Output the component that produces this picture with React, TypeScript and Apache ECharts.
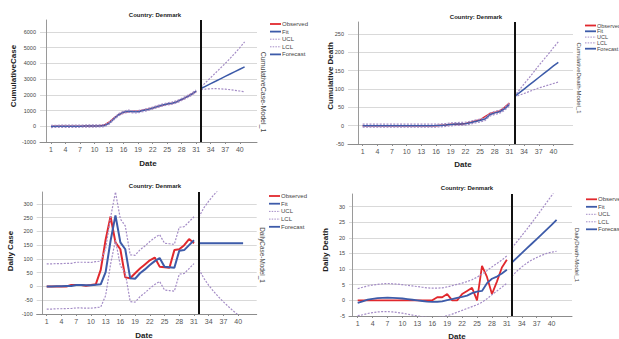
import { useEffect, useRef } from "react";
import * as echarts from "echarts";

// ---- day indices ----
const observedDays = [1, 2, 3, 4, 5, 6, 7, 8, 9, 10, 11, 12, 13, 14, 15, 16, 17, 18, 19, 20, 21, 22, 23, 24, 25, 26, 27, 28, 29, 30, 31];
const forecastDays = [32, 33, 34, 35, 36, 37, 38, 39, 40, 41];
const dayTicks = [1, 4, 7, 10, 13, 16, 19, 22, 25, 28, 31, 34, 37, 40];
const forecastOrigin = 32;

// ---- Cumulative cases ----
const caseCumObserved = [0, 0, 0, 0, 0, 5, 10, 15, 18, 23, 31, 70, 260, 520, 750, 880, 940, 950, 970, 1020, 1090, 1170, 1260, 1340, 1410, 1470, 1570, 1700, 1860, 2040, 2220];
const caseCumFit = [-10, -5, 0, 0, 0, 3, 8, 12, 16, 20, 26, 40, 190, 480, 740, 900, 960, 920, 930, 1000, 1070, 1160, 1260, 1350, 1420, 1470, 1560, 1710, 1860, 2030, 2240];
const caseCumUcl = [60, 65, 70, 70, 70, 73, 78, 82, 86, 90, 96, 110, 260, 550, 810, 970, 1030, 990, 1000, 1070, 1140, 1230, 1330, 1420, 1490, 1540, 1630, 1780, 1930, 2100, 2310];
const caseCumLcl = [-80, -75, -70, -70, -70, -67, -62, -58, -54, -50, -44, -30, 120, 410, 670, 830, 890, 850, 860, 930, 1000, 1090, 1190, 1280, 1350, 1400, 1490, 1640, 1790, 1960, 2170];
const caseCumForecast = [2406, 2560, 2713, 2866, 3020, 3173, 3326, 3479, 3632, 3785];
const caseCumForecastUcl = [2500, 2800, 3100, 3400, 3700, 4000, 4320, 4650, 5000, 5370];
const caseCumForecastLcl = [2330, 2370, 2390, 2395, 2385, 2360, 2330, 2290, 2245, 2190];

// ---- Cumulative deaths ----
const deathCumObserved = [0, 0, 0, 0, 0, 0, 0, 0, 0, 0, 0, 0, 0, 0, 0, 0, 1, 2, 4, 4, 4, 6, 9, 13, 16, 25, 33, 36, 40, 50, 62];
const deathCumFit = [0, 0, 0, 0, 0, 0, 0, 0, 0, 0, 0, 0, 0, 0, 0, 0.2, 0.8, 2, 3.5, 4.5, 4.8, 5.5, 8, 11.5, 14, 18, 30, 35, 38, 46, 58];
const deathCumUcl = [4, 4, 4, 4, 4, 4, 4, 4, 4, 4, 4, 4, 4, 4, 4, 4.2, 4.8, 6, 7.5, 8.5, 8.8, 9.5, 12, 15.5, 18, 22, 34, 39, 42, 50, 62];
const deathCumLcl = [-4, -4, -4, -4, -4, -4, -4, -4, -4, -4, -4, -4, -4, -4, -4, -3.8, -3.2, -2, -0.5, 0.5, 0.8, 1.5, 4, 7.5, 10, 14, 26, 31, 34, 42, 54];
const deathCumForecast = [79, 89.5, 100, 110.5, 121, 131.5, 142, 152.5, 163, 173];
const deathCumForecastUcl = [80, 97, 114, 130, 147, 164, 180, 196, 213, 229];
const deathCumForecastLcl = [78, 83, 88, 93, 98, 103, 107, 111, 115, 119];

// ---- Daily cases ----
const caseDayObserved = [0, 0, 0, 0, 0, 5, 5, 5, 3, 5, 8, 60, 170, 254, 160, 135, 33, 30, 48, 65, 80, 95, 105, 72, 70, 68, 132, 135, 150, 172, 157];
const caseDayFit = [0, 0, 1, 1, 2, 2, 5, 5, 4, 4, 6, 8, 52, 165, 258, 160, 135, 30, 28, 48, 62, 78, 92, 103, 72, 70, 68, 130, 132, 150, 168];
const caseDayUcl = [82, 82, 83, 83, 84, 84, 88, 88, 88, 87, 90, 92, 137, 250, 343, 245, 220, 115, 113, 133, 147, 163, 177, 188, 157, 155, 153, 215, 217, 235, 253];
const caseDayLcl = [-82, -82, -81, -81, -80, -80, -78, -78, -79, -79, -77, -75, -33, 80, 168, 75, 50, -55, -57, -37, -23, -7, 7, 18, -13, -15, -17, 45, 47, 65, 83];
const caseDayForecast = [157, 157, 157, 157, 157, 157, 157, 157, 157, 157];
const caseDayForecastUcl = [252, 285, 310, 332, 352, 370, 387, 403, 418, 432];
const caseDayForecastLcl = [62, 30, 4, -18, -38, -56, -73, -89, -104, -118];

// ---- Daily deaths ----
const deathDayObserved = [0, 0, 0, 0, 0, 0, 0, 0, 0, 0, 0, 0, 0, 0, 0, 0, 1, 1, 2, 0, 0, 2, 3, 4, 0, 11, 7.5, 2, 6, 10.5, 13];
const deathDayFit = [-0.8, -0.3, 0.2, 0.5, 0.7, 0.8, 0.85, 0.8, 0.7, 0.6, 0.4, 0.2, 0, -0.2, -0.4, -0.5, -0.5, -0.3, 0.1, 0.4, 0.8, 1.1, 1.5, 2.3, 2.8, 3, 5.5, 6.9, 7.6, 8.6, 9.8];
const deathDayUcl = [3.7, 4.2, 4.6, 4.9, 5.1, 5.3, 5.4, 5.3, 5.2, 5.0, 4.8, 4.6, 4.4, 4.2, 4.0, 3.9, 3.9, 4.0, 4.3, 4.7, 5.1, 5.5, 6.0, 6.6, 7.4, 8.4, 9.5, 10.7, 11.8, 12.9, 14.2];
const deathDayLcl = [-4.9, -4.6, -4.2, -3.9, -3.7, -3.6, -3.6, -3.7, -3.9, -4.1, -4.4, -4.7, -5.0, -5.2, -5.4, -5.5, -5.5, -5.3, -4.9, -4.4, -3.8, -3.2, -2.6, -2.0, -1.4, -0.6, 0.5, 1.8, 3.0, 4.2, 5.5];
const deathDayForecast = [12.1, 13.6, 15.1, 16.6, 18.1, 19.6, 21.1, 22.6, 24.1, 25.7];
const deathDayForecastUcl = [16.7, 18.7, 20.7, 22.7, 24.8, 26.9, 29.1, 31.3, 33.5, 35.8];
const deathDayForecastLcl = [7.7, 9.3, 10.7, 11.9, 12.9, 13.7, 14.4, 15.0, 15.4, 15.7];

const legendNames = ["Observed", "Fit", "UCL", "LCL", "Forecast"];
const panelTitle = "Country: Denmark";

const RED = "#e1282d";
const BLUE = "#3d5ba9";
const LILAC = "#a48cc6";
const FONT = "'Liberation Sans', Arial, sans-serif";

type Panel = {
  yName: string;
  modelName: string;
  observed: number[];
  fit: number[];
  ucl: number[];
  lcl: number[];
  forecast: number[];
  forecastUcl: number[];
  forecastLcl: number[];
  yMin: number;
  yMax: number;
  yStep: number;
  layout: {
    grid: { left: number; top: number; width: number; height: number };
    xMin: number;
    xMax: number;
    lineWidth: number;
    title: [number, number];
    yTitle: [number, number];
    xTitle: [number, number];
    model: [number, number];
    legend: [number, number, number];
    legendFont: number;
    modelFont: number;
  };
};

const panels: Panel[] = [
  {
    yName: "CumulativeCase",
    modelName: "CumulativeCase-Model_1",
    observed: caseCumObserved,
    fit: caseCumFit,
    ucl: caseCumUcl,
    lcl: caseCumLcl,
    forecast: caseCumForecast,
    forecastUcl: caseCumForecastUcl,
    forecastLcl: caseCumForecastLcl,
    yMin: -1000,
    yMax: 6765,
    yStep: 1000,
    layout: {
      grid: { left: 40, top: 20, width: 217, height: 122 },
      xMin: -1.27,
      xMax: 43.56,
      lineWidth: 1.5,
      title: [155, 15],
      yTitle: [13, 76],
      xTitle: [148, 163],
      model: [263, 92],
      legend: [270, 24, 7.6],
      legendFont: 6,
      modelFont: 7,
    },
  },
  {
    yName: "Cumulative Death",
    modelName: "CumulativeDeath-Model_1",
    observed: deathCumObserved,
    fit: deathCumFit,
    ucl: deathCumUcl,
    lcl: deathCumLcl,
    forecast: deathCumForecast,
    forecastUcl: deathCumForecastUcl,
    forecastLcl: deathCumForecastLcl,
    yMin: -50,
    yMax: 283,
    yStep: 50,
    layout: {
      grid: { left: 348, top: 22, width: 225, height: 122 },
      xMin: -2.0,
      xMax: 44.0,
      lineWidth: 1.5,
      title: [476, 17],
      yTitle: [330, 76],
      xTitle: [463, 164],
      model: [579, 78],
      legend: [585, 25.5, 5.8],
      legendFont: 5.5,
      modelFont: 6,
    },
  },
  {
    yName: "Daily Case",
    modelName: "DailyCase-Model_1",
    observed: caseDayObserved,
    fit: caseDayFit,
    ucl: caseDayUcl,
    lcl: caseDayLcl,
    forecast: caseDayForecast,
    forecastUcl: caseDayForecastUcl,
    forecastLcl: caseDayForecastLcl,
    yMin: -100,
    yMax: 343,
    yStep: 50,
    layout: {
      grid: { left: 36.7, top: 192, width: 220, height: 122 },
      xMin: -1.04,
      xMax: 43.77,
      lineWidth: 2,
      title: [155, 186],
      yTitle: [10, 251],
      xTitle: [144, 335],
      model: [262, 255],
      legend: [269, 196, 7.7],
      legendFont: 6,
      modelFont: 6.4,
    },
  },
  {
    yName: "Daily Death",
    modelName: "DailyDeath-Model_1",
    observed: deathDayObserved,
    fit: deathDayFit,
    ucl: deathDayUcl,
    lcl: deathDayLcl,
    forecast: deathDayForecast,
    forecastUcl: deathDayForecastUcl,
    forecastLcl: deathDayForecastLcl,
    yMin: -5,
    yMax: 34,
    yStep: 5,
    layout: {
      grid: { left: 349, top: 194, width: 223, height: 122 },
      xMin: -0.75,
      xMax: 44.1,
      lineWidth: 1.8,
      title: [467, 188],
      yTitle: [325, 250],
      xTitle: [457, 336],
      model: [577, 255],
      legend: [586, 199.3, 7.5],
      legendFont: 6,
      modelFont: 6,
    },
  },
];

const CI_DASH = [2, 1.4];

function pairs(xs: number[], ys: number[]) {
  return xs.map((x, i) => [x, ys[i]]);
}

function buildOption() {
  const grid: any[] = [];
  const xAxis: any[] = [];
  const yAxis: any[] = [];
  const series: any[] = [];
  const graphic: any[] = [];

  panels.forEach((p, gi) => {
    const L = p.layout;
    grid.push({ ...L.grid, containLabel: false });
    xAxis.push({
      type: "value",
      gridIndex: gi,
      min: L.xMin,
      max: L.xMax,
      axisLine: { show: true, onZero: false, lineStyle: { color: "#8c8c8c", width: 1 } },
      axisTick: { show: true, customValues: dayTicks, length: 2, lineStyle: { color: "#8c8c8c" } },
      axisLabel: { customValues: dayTicks, fontSize: 7, color: "#555", margin: 4, fontFamily: FONT },
      splitLine: { show: false },
    });
    yAxis.push({
      type: "value",
      gridIndex: gi,
      min: p.yMin,
      max: p.yMax,
      interval: p.yStep,
      axisLine: { show: true, lineStyle: { color: "#9a9a9a", width: 1 } },
      axisTick: { show: false },
      axisLabel: {
        fontSize: 5.5,
        color: "#444",
        margin: 4,
        fontFamily: FONT,
        formatter: (v: number) => (Math.abs(v % p.yStep) < 1e-9 ? String(v) : ""),
      },
      splitLine: { show: true, showMaxLine: false, lineStyle: { color: "#d9d9d9", width: 1 } },
    });

    const base = { type: "line", xAxisIndex: gi, yAxisIndex: gi, symbol: "none", silent: true, animation: false };
    const w = L.lineWidth;
    series.push({ ...base, name: "Observed", data: pairs(observedDays, p.observed), lineStyle: { color: RED, width: w } });
    series.push({ ...base, name: "Fit", data: pairs(observedDays, p.fit), lineStyle: { color: BLUE, width: w } });
    series.push({ ...base, name: "UCL", data: pairs(observedDays, p.ucl), lineStyle: { color: LILAC, width: 1.2, type: CI_DASH } });
    series.push({ ...base, name: "LCL", data: pairs(observedDays, p.lcl), lineStyle: { color: LILAC, width: 1.2, type: CI_DASH } });
    series.push({ ...base, name: "UCL", data: pairs(forecastDays, p.forecastUcl), lineStyle: { color: LILAC, width: 1.2, type: CI_DASH } });
    series.push({ ...base, name: "LCL", data: pairs(forecastDays, p.forecastLcl), lineStyle: { color: LILAC, width: 1.2, type: CI_DASH } });
    series.push({
      ...base,
      name: "Forecast",
      data: pairs(forecastDays, p.forecast),
      lineStyle: { color: BLUE, width: w },
      markLine: {
        silent: true,
        symbol: "none",
        label: { show: false },
        lineStyle: { color: "#111", width: 2, type: "solid" },
        data: [{ xAxis: forecastOrigin }],
      },
    });

    // panel texts
    graphic.push({
      type: "text",
      x: L.title[0],
      y: L.title[1],
      style: { text: panelTitle, font: `bold 6px ${FONT}`, fill: "#222", textAlign: "center", textVerticalAlign: "middle" },
    });
    graphic.push({
      type: "text",
      x: L.yTitle[0],
      y: L.yTitle[1],
      rotation: Math.PI / 2,
      style: { text: p.yName, font: `bold 8px ${FONT}`, fill: "#222", textAlign: "center", textVerticalAlign: "middle" },
    });
    graphic.push({
      type: "text",
      x: L.xTitle[0],
      y: L.xTitle[1],
      style: { text: "Date", font: `bold 8px ${FONT}`, fill: "#222", textAlign: "center", textVerticalAlign: "middle" },
    });
    graphic.push({
      type: "text",
      x: L.model[0],
      y: L.model[1],
      rotation: -Math.PI / 2,
      style: { text: p.modelName, font: `${L.modelFont}px ${FONT}`, fill: "#444", textAlign: "center", textVerticalAlign: "middle" },
    });

    const [lx, ly, gap] = L.legend;
    legendNames.forEach((name, k) => {
      const yy = ly + k * gap;
      const dashed = name === "UCL" || name === "LCL";
      const color = name === "Observed" ? RED : dashed ? LILAC : BLUE;
      graphic.push({
        type: "line",
        shape: { x1: lx, y1: yy, x2: lx + 11, y2: yy },
        style: { stroke: color, lineWidth: dashed ? 1 : 1.8, lineDash: dashed ? [1.5, 1.2] : null },
      });
      graphic.push({
        type: "text",
        x: lx + 12,
        y: yy,
        style: { text: name, font: `${L.legendFont}px ${FONT}`, fill: "#444", textAlign: "left", textVerticalAlign: "middle" },
      });
    });
  });

  return {
    animation: false,
    backgroundColor: "#ffffff",
    grid,
    xAxis,
    yAxis,
    series,
    graphic: { elements: graphic },
  };
}

export default function App() {
  const ref = useRef<HTMLDivElement>(null);
  useEffect(() => {
    if (!ref.current) return;
    const chart = echarts.init(ref.current, undefined, { renderer: "svg" });
    chart.setOption(buildOption() as any);
    return () => chart.dispose();
  }, []);
  return (
    <div
      ref={ref}
      style={{ position: "absolute", left: 0, top: 0, width: 619, height: 339, background: "#fff" }}
    />
  );
}
